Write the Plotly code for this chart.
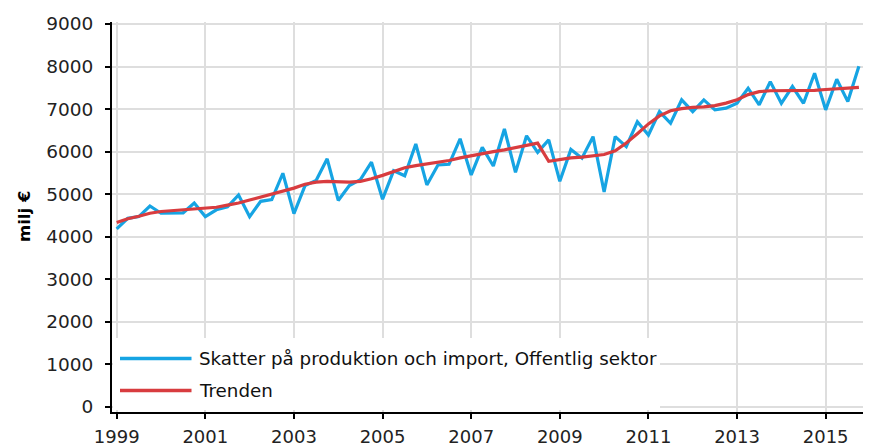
import plotly.graph_objects as go

# Quarterly data 1999Q1 .. 2015Q4
years = list(range(1999, 2016))
quarters = [1, 2, 3, 4]

skatter = [
    4180, 4430, 4470, 4720,
    4550, 4550, 4560, 4790,
    4470, 4630, 4700, 4980,
    4470, 4830, 4870, 5490,
    4540, 5200, 5320, 5830,
    4850, 5200, 5340, 5750,
    4880, 5550, 5430, 6180,
    5215, 5685, 5700, 6300,
    5450, 6100, 5660, 6530,
    5510, 6370, 5980, 6275,
    5300, 6050, 5845, 6350,
    5050, 6350, 6115, 6700,
    6390, 6940, 6665, 7215,
    6940, 7215, 6980, 7020,
    7135, 7490, 7100, 7645,
    7135, 7530, 7135, 7840,
    6980, 7700, 7175, 8005,
]

trend = [
    4330, 4420, 4480, 4550,
    4590, 4610, 4620, 4640,
    4660, 4690, 4740, 4790,
    4860, 4930, 5010, 5080,
    5140, 5230, 5280, 5300,
    5290, 5280, 5300, 5360,
    5440, 5530, 5620, 5670,
    5710, 5740, 5790, 5850,
    5900, 5960, 6000, 6040,
    6090, 6150, 6200, 5770,
    5810, 5850, 5870, 5900,
    5930, 6020, 6200, 6420,
    6650, 6840, 6960, 7010,
    7040, 7050, 7080, 7140,
    7220, 7340, 7410, 7430,
    7430, 7430, 7435, 7440,
    7460, 7470, 7490, 7510,
]

series_names = ["Skatter på produktion och import, Offentlig sektor", "Trenden"]
series_colors = ["#16a4e3", "#d83c3f"]
y_title = "milj €"
x_ticks = [1999, 2001, 2003, 2005, 2007, 2009, 2011, 2013, 2015]
y_ticks = [0, 1000, 2000, 3000, 4000, 5000, 6000, 7000, 8000, 9000]

x = [y + (q - 1) / 4 for y in years for q in quarters]

FONT = "DejaVu Sans"
OFF = 8  # page body margin offset
W, H = 871 - OFF, 446 - OFF
ML, MR, MT, MB = 112 - OFF, 0, 22 - OFF, 34
PW, PH = W - ML - MR, H - MT - MB

def px_x(p):
    return (p - OFF - ML) / PW

def px_y(p):
    return (H - MB - (p - OFF)) / PH

fig = go.Figure()
for vals, name, col in zip([skatter, trend], series_names, series_colors):
    fig.add_trace(go.Scatter(x=x, y=vals, mode="lines", name=name,
                             line=dict(color=col, width=3.2), showlegend=False,
                             hoverinfo="x+y"))

xr = [1998.894, 2016.023]
yr = [-125, 9047]

axis_common = dict(showline=True, linecolor="#000000", linewidth=2,
                   tickcolor="#000000", tickwidth=1.5, zeroline=False,
                   automargin=False)

fig.update_layout(
    width=W, height=H,
    margin=dict(l=ML, r=MR, t=MT, b=MB, autoexpand=False),
    paper_bgcolor="white", plot_bgcolor="white",
    font=dict(family=FONT, size=18, color="#222222"),
    xaxis=dict(range=xr, tickmode="array", tickvals=x_ticks,
               ticktext=[str(v) for v in x_ticks],
               ticks="outside", ticklen=5, showgrid=True,
               gridcolor="#dedede", gridwidth=1.5,
               tickfont=dict(family=FONT, size=18, color="#222222"),
               ticklabelstandoff=2, **axis_common),
    yaxis=dict(range=yr, tickmode="array", tickvals=y_ticks,
               ticktext=[str(v) for v in y_ticks],
               ticks="outside", ticklen=5, showgrid=True,
               gridcolor="#dedede", gridwidth=1.5,
               tickfont=dict(family=FONT, size=18.5, color="#222222"),
               ticklabelstandoff=8, **axis_common),
    xaxis2=dict(range=xr, overlaying="x", anchor="y", side="bottom",
                tickmode="array", tickvals=x_ticks, ticks="inside", ticklen=4,
                tickcolor="#000000", tickwidth=1.5, showticklabels=False,
                showgrid=False, zeroline=False, showline=False, automargin=False),
    yaxis2=dict(range=yr, overlaying="y", anchor="x", side="left",
                tickmode="array", tickvals=y_ticks, ticks="inside", ticklen=4,
                tickcolor="#000000", tickwidth=1.5, showticklabels=False,
                showgrid=False, zeroline=False, showline=False, automargin=False),
    showlegend=False,
)

# Manual legend box (white, covering the grid)
fig.add_shape(type="rect", xref="paper", yref="paper",
              x0=px_x(113), x1=px_x(660), y0=px_y(410), y1=px_y(338),
              fillcolor="white", line=dict(width=0), layer="above")
legend_rows = [358.5, 390.5]
for name, col, row in zip(series_names, series_colors, legend_rows):
    fig.add_shape(type="line", xref="paper", yref="paper",
                  x0=px_x(120), x1=px_x(191.5), y0=px_y(row), y1=px_y(row),
                  line=dict(color=col, width=3.5), layer="above")
    fig.add_annotation(text=name, xref="paper", yref="paper",
                       x=px_x(197), y=px_y(row), xanchor="left", yanchor="middle",
                       showarrow=False, font=dict(family=FONT, size=18.3, color="#111111"))

# Y axis title
fig.add_annotation(text="<b>" + y_title + "</b>", xref="paper", yref="paper",
                   x=px_x(24), y=px_y(217), xanchor="center", yanchor="middle",
                   textangle=-90, showarrow=False,
                   font=dict(family=FONT, size=16.5, color="#000000"))

fig.write_html("out.html")
